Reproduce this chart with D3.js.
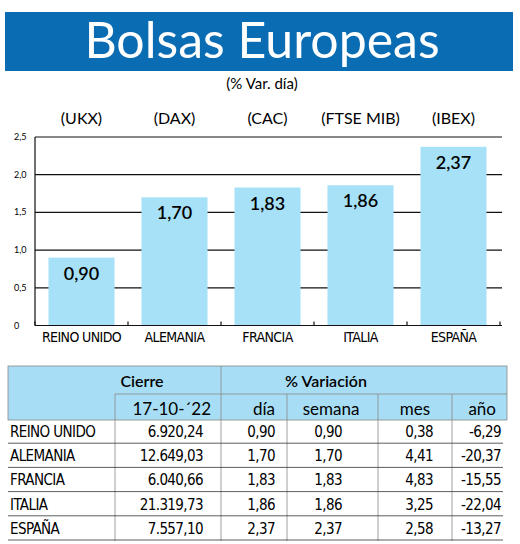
<!DOCTYPE html>
<html><head><meta charset="utf-8">
<script src="https://cdn.jsdelivr.net/npm/d3@7"></script>
<style>
body{margin:0;background:#fff}
text{font-family:"Liberation Sans Narrow","DejaVu Sans Condensed","Noto Sans",sans-serif}
.t{font-family:Lato,"Open Sans",sans-serif}
.n{letter-spacing:-0.6px}
</style></head><body>
<svg id="c" width="520" height="544"></svg>
<script>
var countries = ["REINO UNIDO","ALEMANIA","FRANCIA","ITALIA","ESPAÑA"];
var codes = ["(UKX)","(DAX)","(CAC)","(FTSE MIB)","(IBEX)"];
var dayVar = [0.90,1.70,1.83,1.86,2.37];
var yTicks = [0,0.5,1.0,1.5,2.0,2.5];
var cierre = ["6.920,24","12.649,03","6.040,66","21.319,73","7.557,10"];
var semana = ["0,90","1,70","1,83","1,86","2,37"];
var mes = ["0,38","4,41","4,83","3,25","2,58"];
var anio = ["-6,29","-20,37","-15,55","-22,04","-13,27"];

var svg = d3.select("#c");
var fmt = function(v){ return v.toFixed(2).replace(".", ","); };

// title
svg.append("rect").attr("x",5).attr("y",12).attr("width",508).attr("height",59).attr("fill","#0a6cb3");
svg.append("text").attr("class","t").attr("x",262).attr("y",58).attr("text-anchor","middle")
    .attr("fill","#fff").attr("font-size",50).attr("font-weight",400).text("Bolsas Europeas");
svg.append("text").attr("class","t").attr("x",262).attr("y",89).attr("text-anchor","middle")
    .attr("font-size",15).text("(% Var. día)");

// chart
var x = d3.scaleBand().domain(countries).range([35,500]).paddingInner(0.29).paddingOuter(0.145);
var y = d3.scaleLinear().domain([0,2.5]).range([325.5,137]);

svg.selectAll(".code").data(codes).enter().append("text").attr("class","t")
    .attr("x",function(d,i){ return x(countries[i]) + x.bandwidth()/2; })
    .attr("y",124).attr("text-anchor","middle").attr("font-size",16).text(function(d){ return d; });

svg.selectAll(".grid").data(yTicks.slice(1)).enter().append("line")
    .attr("x1",35).attr("x2",502).attr("y1",function(d){ return y(d); }).attr("y2",function(d){ return y(d); })
    .attr("stroke","#111").attr("stroke-width",1.2);

svg.append("line").attr("x1",35).attr("x2",35).attr("y1",y(2.5)).attr("y2",y(0)).attr("stroke","#111").attr("stroke-width",1.2);

svg.selectAll(".bar").data(dayVar).enter().append("rect")
    .attr("x",function(d,i){ return x(countries[i]); }).attr("width",x.bandwidth())
    .attr("y",function(d){ return y(d); }).attr("height",function(d){ return y(0) - y(d); })
    .attr("fill","#a6e1f7");

svg.append("line").attr("x1",35).attr("x2",502).attr("y1",y(0)).attr("y2",y(0)).attr("stroke","#111").attr("stroke-width",1.2);
var step = x.step();
svg.selectAll(".xt").data(d3.range(6)).enter().append("line")
    .attr("x1",function(d){ return 35 + d*step; }).attr("x2",function(d){ return 35 + d*step; })
    .attr("y1",y(0)-4).attr("y2",y(0)).attr("stroke","#111").attr("stroke-width",1.2);

svg.selectAll(".yl").data(yTicks).enter().append("text").attr("class","t")
    .attr("x",14).attr("y",function(d){ return y(d)+3; }).attr("font-size",9)
    .text(function(d){ return d === 0 ? "0" : d.toFixed(1).replace(".", ","); });

svg.selectAll(".val").data(dayVar).enter().append("text").attr("class","t")
    .attr("x",function(d,i){ return x(countries[i]) + x.bandwidth()/2; })
    .attr("y",function(d){ return y(d) + 22; }).attr("text-anchor","middle")
    .attr("font-size",18).attr("font-weight",600).text(fmt);

svg.selectAll(".cat").data(countries).enter().append("text").attr("class","n")
    .attr("x",function(d){ return x(d) + x.bandwidth()/2; }).attr("y",342)
    .attr("text-anchor","middle").attr("font-size",14).text(function(d){ return d; });

// table
svg.append("rect").attr("x",8).attr("y",366).attr("width",499).attr("height",54).attr("fill","#a8def5");
svg.append("rect").attr("x",8).attr("y",366).attr("width",499).attr("height",54).attr("fill","none").attr("stroke","#888").attr("stroke-width",0.8);
svg.append("line").attr("x1",115).attr("x2",507).attr("y1",394).attr("y2",394).attr("stroke","#888").attr("stroke-width",0.8);
svg.append("line").attr("x1",221).attr("x2",221).attr("y1",366).attr("y2",541).attr("stroke","#888").attr("stroke-width",0.8);
[115,287,378,452].forEach(function(cx){
    svg.append("line").attr("x1",cx).attr("x2",cx).attr("y1",394).attr("y2",541).attr("stroke","#888").attr("stroke-width",0.8);
});
svg.append("text").attr("class","t").attr("x",142).attr("y",387).attr("text-anchor","middle").attr("font-size",16).attr("font-weight",600).text("Cierre");
svg.append("text").attr("class","t").attr("x",326).attr("y",387).attr("text-anchor","middle").attr("font-size",16).attr("font-weight",600).text("% Variación");
var hdr = [["17-10-´22",211],["día",275],["semana",331],["mes",415],["año",496]];
hdr.forEach(function(h,i){
    svg.append("text").attr("class","t").attr("x",h[1]).attr("y",415)
        .attr("text-anchor", i===2||i===3 ? "middle" : "end").attr("font-size",17).text(h[0]);
});
var rowY = d3.scaleBand().domain(countries).range([420,541]);
countries.forEach(function(c,i){
    var by = rowY(c) + 17;
    svg.append("line").attr("x1",8).attr("x2",503).attr("y1",rowY(c)+rowY.bandwidth()-1).attr("y2",rowY(c)+rowY.bandwidth()-1)
        .attr("stroke","#333").attr("stroke-width",0.8);
    var cells = [[c,10,"start"],[cierre[i],203,"end"],[fmt(dayVar[i]),275,"end"],[semana[i],342,"end"],[mes[i],433,"end"],[anio[i],501,"end"]];
    cells.forEach(function(cl){
        svg.append("text").attr("class","n").attr("x",cl[1]).attr("y",by).attr("text-anchor",cl[2]).attr("font-size",15).text(cl[0]);
    });
});
</script></body></html>
